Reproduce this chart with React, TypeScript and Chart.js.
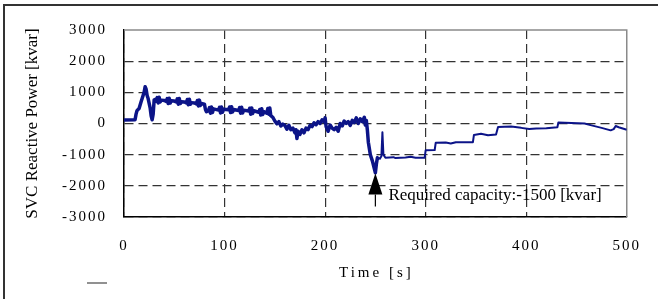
import React, { useEffect, useRef } from "react";
import Chart from "chart.js/auto";

const times = [
  0, 11, 12, 13, 15, 17, 19, 20, 21, 22, 23, 24, 26, 27, 28, 29, 30,
  31, 32, 33, 34, 35, 36, 37, 40, 42, 43, 44, 45, 46, 47, 50, 52, 53, 54, 55, 56, 57,
  60, 62, 63, 64, 65, 66, 67, 70, 72, 73, 74, 75, 76, 77, 80, 81, 82,
  84, 85, 86, 87, 88, 89, 94, 95, 96, 97, 98, 99, 104, 105, 106, 107, 108, 109,
  114, 115, 116, 117, 118, 119, 124, 125, 126, 127, 128, 129, 134, 135, 136, 137, 138, 139,
  142, 143, 144, 145, 146, 148, 150, 152, 154, 156, 158, 160, 162, 164, 166, 168, 170, 171, 172, 173,
  175, 177, 179, 181, 183, 185, 187, 189, 191, 193, 195, 197, 199, 200, 201, 203, 205, 207, 209, 211,
  213, 215, 217, 219, 221, 223, 225, 227, 229, 231, 233, 235, 237, 239, 240, 241, 242, 243, 245, 247,
  249, 250, 251, 252, 254, 256, 257, 258, 260, 268, 270, 280, 285, 290, 299, 300, 309, 310, 320, 325,
  330, 347, 348, 355, 362, 370, 372, 385, 395, 403, 410, 420, 431, 432, 445, 458, 465, 475, 484, 487,
  489, 492, 500,
];

const values = [
  110, 120, 300, 420, 480, 700, 900, 1000, 1180, 1100, 900, 800, 500, 250, 120, 300, 760,
  770, 720, 830, 660, 840, 690, 750, 740, 710, 800, 640, 810, 660, 730, 720, 690, 790, 620, 800, 640, 700,
  690, 660, 770, 600, 780, 620, 670, 660, 630, 740, 560, 750, 580, 640, 620, 450, 380,
  420, 510, 330, 530, 350, 470, 430, 520, 340, 530, 360, 460, 440, 530, 350, 540, 370, 450,
  420, 510, 330, 520, 340, 430, 400, 490, 300, 500, 320, 410, 360, 450, 270, 470, 290, 380,
  330, 480, 300, 500, 250, 200, 80, -10, 60, -80, -20, -60, -180, -60, -200, -150, -300, -200, -480, -250,
  -350, -200, -300, -150, -200, -60, -100, 20, -40, 60, 0, 120, 60, 180, -100, -250, -50, -150, -200, -120,
  -250, 0, -80, 80, 0, 60, -60, 100, 30, 180, 0, 150, 60, 200, -50, 100, -200, -600, -1000, -1200,
  -1450, -1580, -1300, -1100, -1150, -1050, -280, -1000, -1100, -1080, -1110, -1090, -1070, -1100, -1100, -860, -850, -620, -610, -640,
  -600, -600, -370, -330, -380, -350, -110, -100, -140, -180, -160, -150, -120, 30, 20, 0, -60, -140, -220, -180,
  -80, -120, -200,
];

const xTicks = [0, 100, 200, 300, 400, 500];
const yTicks = [3000, 2000, 1000, 0, -1000, -2000, -3000];

const xTitle = "Time [s]";
const yTitle = "SVC Reactive Power [kvar]";
const annText = "Required capacity:-1500 [kvar]";
const annX = 250;
const annTip = -1600;
const annBase = -2280;
const annEnd = -2660;
const annTextY = -2300;

const SERIF = "'Liberation Serif', 'Times New Roman', serif";

export default function App() {
  const ref = useRef<HTMLCanvasElement | null>(null);

  useEffect(() => {
    const canvas = ref.current;
    if (!canvas) return;

    const decor = {
      id: "decor",
      beforeDraw(chart: any) {
        (chart.ctx as any).letterSpacing = "2px";
      },
      beforeDatasetsDraw(chart: any) {
        const { ctx, chartArea } = chart;
        ctx.save();
        ctx.strokeStyle = "#8a8a8a";
        ctx.lineWidth = 1.5;
        ctx.beginPath();
        ctx.moveTo(chartArea.left, chartArea.top);
        ctx.lineTo(chartArea.right, chartArea.top);
        ctx.lineTo(chartArea.right, chartArea.bottom);
        ctx.stroke();
        ctx.restore();
      },
      afterDatasetsDraw(chart: any) {
        const { ctx } = chart;
        const xs = chart.scales.x;
        const ys = chart.scales.y;
        const px = xs.getPixelForValue(annX);
        const tip = ys.getPixelForValue(annTip);
        const base = ys.getPixelForValue(annBase);
        const end = ys.getPixelForValue(annEnd);
        ctx.save();
        (ctx as any).letterSpacing = "0px";
        ctx.fillStyle = "#000";
        ctx.strokeStyle = "#000";
        ctx.lineWidth = 1.2;
        ctx.beginPath();
        ctx.moveTo(px, tip);
        ctx.lineTo(px - 7, base);
        ctx.lineTo(px + 7, base);
        ctx.closePath();
        ctx.fill();
        ctx.beginPath();
        ctx.moveTo(px, base);
        ctx.lineTo(px, end);
        ctx.stroke();
        ctx.font = `17px ${SERIF}`;
        ctx.textAlign = "left";
        ctx.textBaseline = "middle";
        ctx.fillText(annText, px + 13, ys.getPixelForValue(annTextY));
        ctx.restore();
      },
      afterDraw(chart: any) {
        const { ctx, chartArea } = chart;
        ctx.save();
        ctx.fillStyle = "#000";
        ctx.textAlign = "center";
        ctx.textBaseline = "middle";
        (ctx as any).letterSpacing = "3px";
        ctx.font = `15px ${SERIF}`;
        ctx.fillText(xTitle, (chartArea.left + chartArea.right) / 2 + 1, 273);
        (ctx as any).letterSpacing = "0px";
        ctx.font = `17px ${SERIF}`;
        ctx.translate(33, (chartArea.top + chartArea.bottom) / 2);
        ctx.rotate(-Math.PI / 2);
        ctx.fillText(yTitle, 0, 0);
        ctx.restore();
        ctx.save();
        ctx.strokeStyle = "#333";
        ctx.lineWidth = 2;
        ctx.beginPath();
        ctx.moveTo(4, 299);
        ctx.lineTo(4, 5);
        ctx.lineTo(658, 5);
        ctx.stroke();
        ctx.strokeStyle = "#555";
        ctx.lineWidth = 1.3;
        ctx.beginPath();
        ctx.moveTo(87, 283);
        ctx.lineTo(107, 283);
        ctx.stroke();
        ctx.restore();
      },
    };

    const chart = new Chart(canvas, {
      type: "line",
      data: {
        datasets: [
          {
            data: times.map((t, i) => ({ x: t, y: values[i] })),
            borderColor: "#0c1488",
            borderWidth: 3.5,
            pointRadius: 0,
            tension: 0,
            borderJoinStyle: "round",
            segment: {
              borderWidth: (c: any) => (c.p0.parsed.x < 254 ? 3.5 : 2),
            },
          },
        ],
      },
      options: {
        animation: false,
        responsive: false,
        devicePixelRatio: 1,
        layout: { padding: { left: 0, right: 22, top: 30, bottom: 0 } },
        plugins: {
          legend: { display: false },
          tooltip: { enabled: false },
        },
        scales: {
          x: {
            type: "linear",
            min: 0,
            max: 500,
            afterBuildTicks: (s: any) => {
              s.ticks = xTicks.map((v) => ({ value: v }));
            },
            afterFit: (s: any) => {
              s.height = 82;
            },
            ticks: {
              color: "#000",
              font: { family: SERIF, size: 15 },
              padding: 20,
              maxRotation: 0,
              callback: (v: any) => String(v),
            },
            grid: {
              drawTicks: false,
              color: (c: any) =>
                c.tick && c.tick.value === 500 ? "rgba(0,0,0,0)" : "#333",
              lineWidth: 1.2,
            },
            border: { color: "#000", width: 1.5, dash: [9, 5] },
          },
          y: {
            min: -3000,
            max: 3000,
            afterBuildTicks: (s: any) => {
              s.ticks = yTicks.map((v) => ({ value: v }));
            },
            afterFit: (s: any) => {
              s.width = 124;
            },
            ticks: {
              color: "#000",
              font: { family: SERIF, size: 15 },
              padding: 17,
              callback: (v: any) => String(v),
            },
            grid: {
              drawTicks: false,
              color: (c: any) =>
                c.tick && c.tick.value === 3000 ? "rgba(0,0,0,0)" : "#333",
              lineWidth: 1.2,
            },
            border: { color: "#000", width: 1.5, dash: [9, 5] },
          },
        },
      },
      plugins: [decor],
    } as any);

    return () => chart.destroy();
  }, []);

  return (
    <div style={{ position: "absolute", left: 0, top: 0, width: 658, height: 299, background: "#fff" }}>
      <canvas ref={ref} width={658} height={299} style={{ display: "block" }} />
    </div>
  );
}
